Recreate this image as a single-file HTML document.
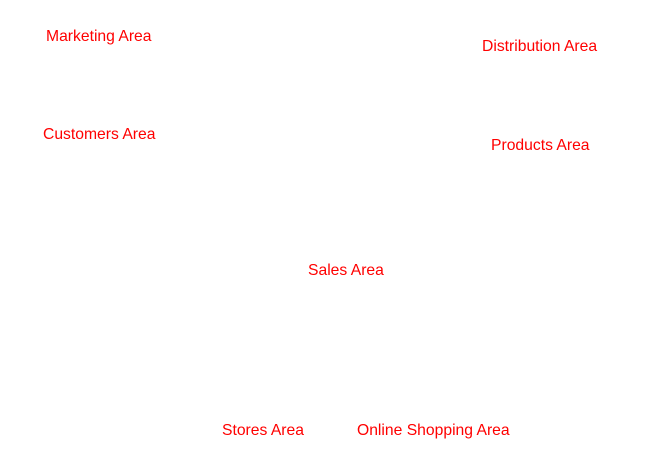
<!DOCTYPE html>
<html><head><meta charset="utf-8"><style>
html,body{margin:0;padding:0;background:#fff;width:657px;height:468px;overflow:hidden;position:relative}
.t{position:absolute;font-family:"Liberation Sans",Arial,sans-serif;font-size:15.7px;line-height:18px;color:#ff0000;white-space:nowrap}
</style></head><body>
<div class="t" style="left:46px;top:28px">Marketing Area</div>
<div class="t" style="left:482px;top:38px">Distribution Area</div>
<div class="t" style="left:43px;top:126px">Customers Area</div>
<div class="t" style="left:491px;top:137px">Products Area</div>
<div class="t" style="left:308px;top:262px">Sales Area</div>
<div class="t" style="left:222px;top:422px">Stores Area</div>
<div class="t" style="left:357px;top:422px">Online Shopping Area</div>
</body></html>
